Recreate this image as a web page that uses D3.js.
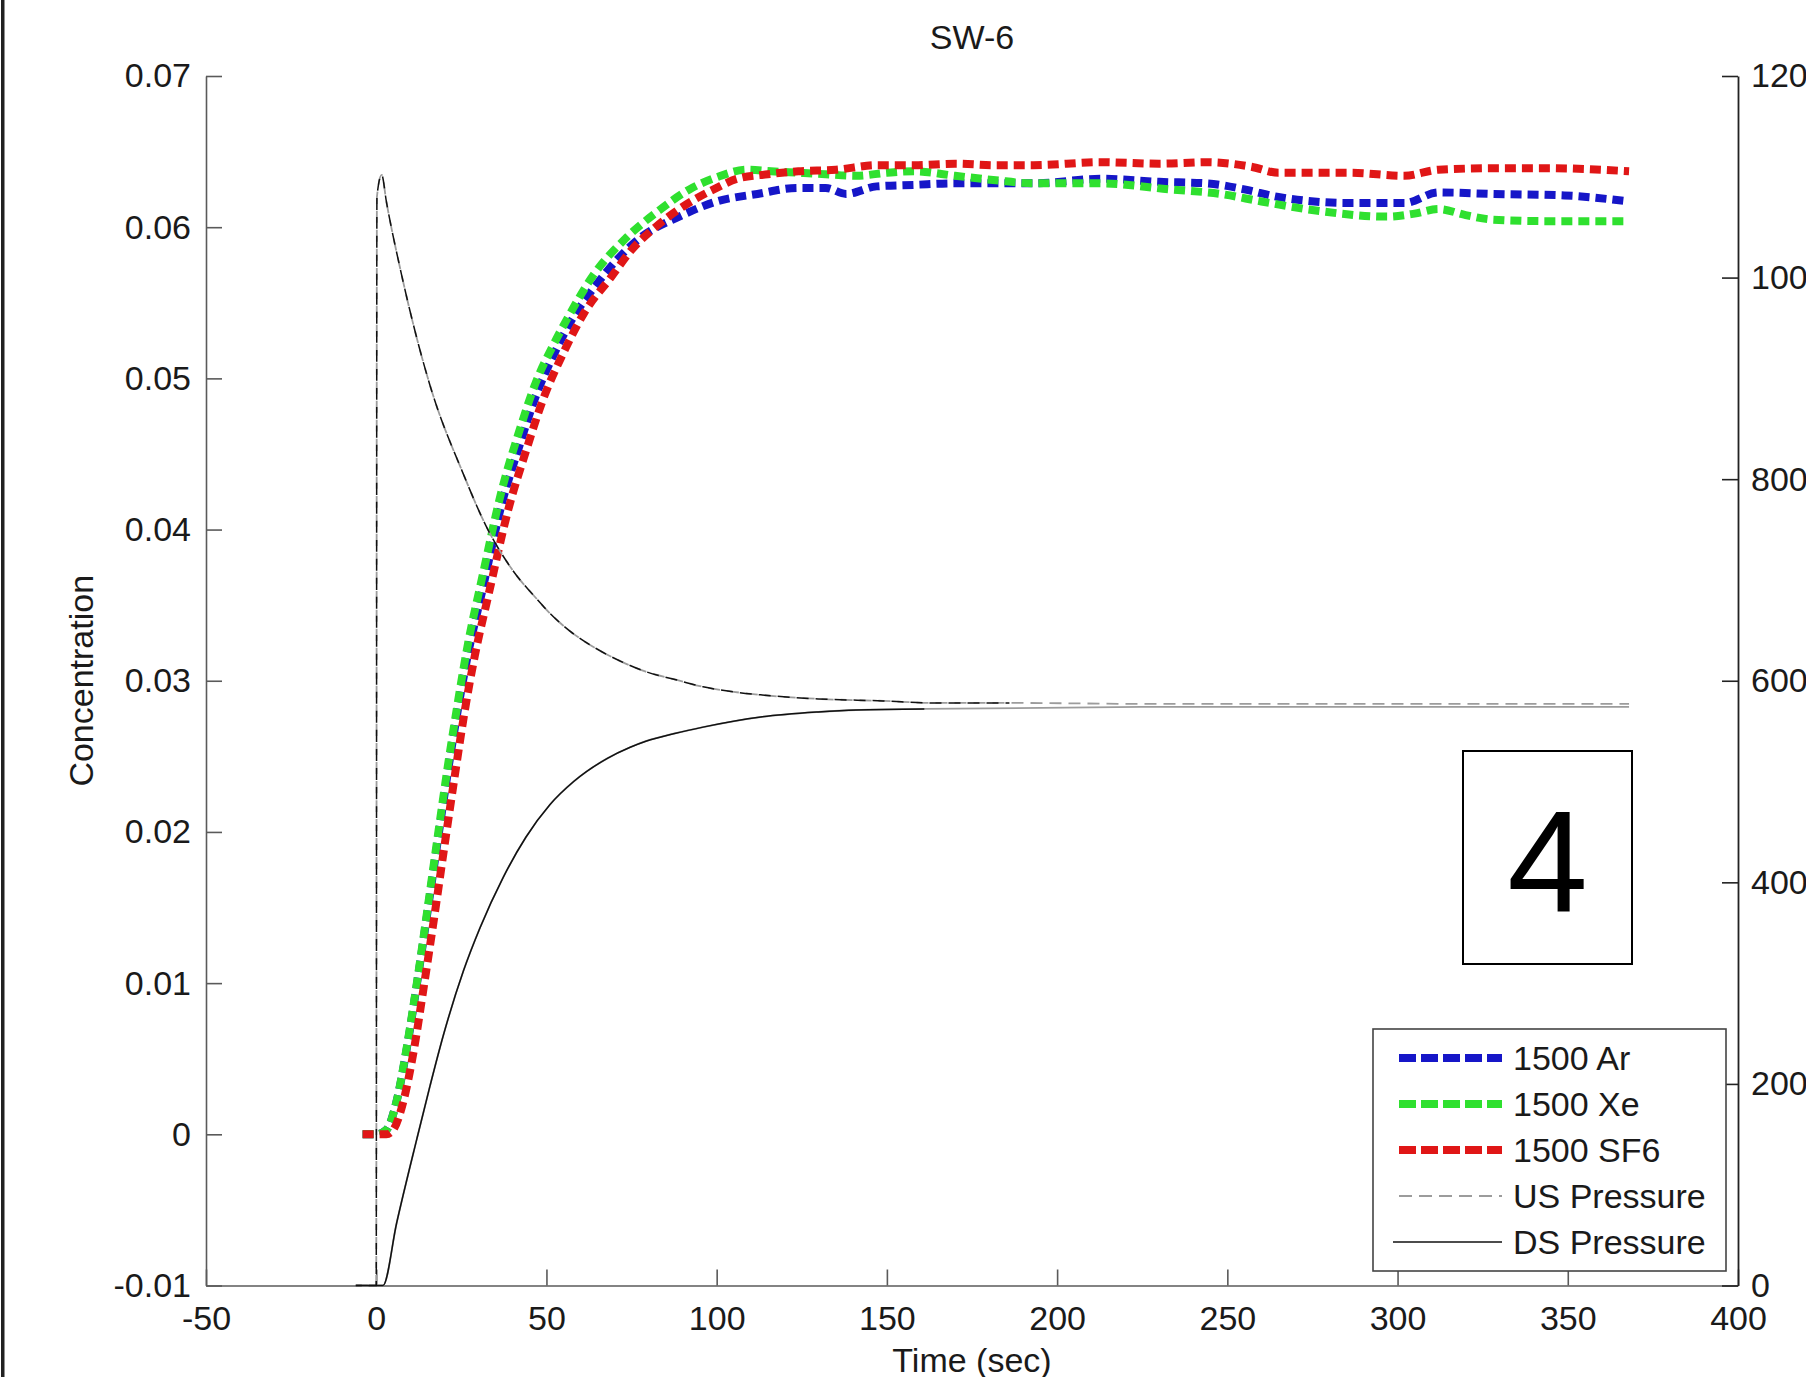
<!DOCTYPE html>
<html><head><meta charset="utf-8">
<script src="https://cdn.jsdelivr.net/npm/d3@7"></script>
<style>
html,body{margin:0;padding:0;background:#fff;}
svg{display:block;}
text{font-family:"Liberation Sans",Arial,Helvetica,sans-serif;}
</style></head><body>
<svg id="c" width="1806" height="1377"></svg>
<script>
const chartTitle = "SW-6";
const xLabel = "Time (sec)";
const yLabel = "Concentration";
const panelLabel = "4";
const xTicks = [-50, 0, 50, 100, 150, 200, 250, 300, 350, 400];
const yLeftTicks = [-0.01, 0, 0.01, 0.02, 0.03, 0.04, 0.05, 0.06, 0.07];
const yRightTicks = [0, 200, 400, 600, 800, 1000, 1200];
const seriesNames = ["1500 Ar", "1500 Xe", "1500 SF6", "US Pressure", "DS Pressure"];

// [time (s), concentration]
const arData = [[-4,0],[0,0],[3,0.0003],[6,0.0022],[9,0.0057],[12,0.0100],[15,0.0146],[18,0.0193],[21,0.0239],[24,0.0281],[27,0.0318],[31,0.0358],[37,0.0418],[42,0.0455],[47,0.0489],[52,0.0515],[57,0.0537],[65,0.0563],[77,0.0592],[89,0.0607],[100,0.0617],[112,0.0622],[124,0.0626],[132,0.0626],[138,0.0622],[147,0.0627],[158,0.0628],[170,0.0629],[193,0.0629],[213,0.0632],[230,0.0630],[244,0.0629],[255,0.0625],[265,0.0620],[286,0.0616],[302,0.0616],[312,0.0623],[328,0.0622],[349,0.0621],[368,0.0617]];
const xeData = [[-4,0],[0,0],[3,0.0003],[6,0.0022],[9,0.0058],[12,0.0101],[15,0.0148],[18,0.0196],[21,0.0243],[24,0.0286],[27,0.0325],[31,0.0367],[37,0.0427],[42,0.0465],[47,0.0498],[52,0.0522],[56,0.0539],[64,0.0569],[73,0.0592],[83,0.0611],[92,0.0625],[100,0.0633],[109,0.0638],[116,0.0637],[124,0.0636],[132,0.0635],[141,0.0634],[150,0.0636],[158,0.0637],[170,0.0634],[182,0.0631],[193,0.0629],[213,0.0629],[233,0.0625],[248,0.0622],[260,0.0617],[276,0.0611],[297,0.0607],[305,0.0609],[312,0.0612],[320,0.0608],[328,0.0605],[344,0.0604],[368,0.0604]];
const sf6Data = [[-4,0],[0,0],[3,0],[5,0.0003],[8,0.0022],[11,0.0055],[14,0.0098],[17,0.0143],[20,0.0190],[23,0.0236],[26,0.0280],[29,0.0317],[33,0.0357],[39,0.0415],[44,0.0452],[49,0.0486],[55,0.0517],[61,0.0543],[69,0.0567],[75,0.0585],[82,0.0600],[89,0.0612],[100,0.0626],[106,0.0632],[115,0.0635],[124,0.0637],[135,0.0638],[147,0.0641],[158,0.0641],[170,0.0642],[182,0.0641],[193,0.0641],[213,0.0643],[230,0.0642],[244,0.0643],[257,0.0640],[265,0.0636],[286,0.0636],[302,0.0634],[312,0.0638],[328,0.0639],[344,0.0639],[368,0.0637]];
// [time (s), pressure] on right axis
const usPressure = [[-6,0],[-1,0],[0,0],[0.2,1080],[1.6,1102],[3,1075],[7.5,1002],[15.8,893],[25.6,805],[32.5,752],[40,710],[47.2,681],[51,667],[57,649],[64.6,632],[72,619],[79.2,609],[88,601],[96,594],[105,589],[112.9,586],[129.8,582],[148.9,580],[163.5,578],[186,578],[227,577],[280,577],[330,577],[368,577]];
const dsPressure = [[-6,0],[2,0],[6,62],[11.9,145],[15.8,198],[19.7,248],[25.6,312],[30.5,355],[37.3,405],[44,445],[51,477],[58,500],[67.9,523],[74.6,534],[79.2,540],[88,548],[96,554],[112.9,564],[129.8,569],[141,571],[161,572],[227,574],[300,574],[368,574]];

const colAr = "#1616c8", colXe = "#2fe02f", colSF6 = "#e01616";
const colGray = "#9c9c9c", colBlack = "#111";

const svg = d3.select("#c");
const W = 1806, H = 1377;
const L = 206, R = 1738, T = 76, B = 1285.5;

const x = d3.scaleLinear().domain([-50, 400]).range([L, R]);
const yL = d3.scaleLinear().domain([-0.01, 0.07]).range([B, T]);
const yR = d3.scaleLinear().domain([0, 1200]).range([B, T]);

svg.append("rect").attr("width", W).attr("height", H).attr("fill", "#fff");
// left frame border
svg.append("rect").attr("x", 1).attr("y", 0).attr("width", 3.5).attr("height", H).attr("fill", "#222");

const fs = 34;
const fmtL = v => v === 0 ? "0" : v.toFixed(2);

// axes
const axL = svg.append("g").attr("transform", `translate(${L},0)`)
  .call(d3.axisLeft(yL).tickValues(yLeftTicks).tickFormat(fmtL).tickSize(-16).tickSizeOuter(0).tickPadding(15));
const axB = svg.append("g").attr("transform", `translate(0,${B})`)
  .call(d3.axisBottom(x).tickValues(xTicks).tickFormat(d => String(d)).tickSize(-16).tickSizeOuter(0).tickPadding(20));
const axR = svg.append("g").attr("transform", `translate(${R},0)`)
  .call(d3.axisRight(yR).tickValues(yRightTicks).tickFormat(d => String(d)).tickSize(-16).tickSizeOuter(0).tickPadding(13));
[axL, axB].forEach(g => {
  g.select(".domain").attr("stroke", "#5a5a5a").attr("stroke-width", 1.6);
  g.selectAll(".tick line").attr("stroke", "#5a5a5a").attr("stroke-width", 1.6);
});
axR.select(".domain").attr("stroke", "#222").attr("stroke-width", 1.8);
axR.selectAll(".tick line").attr("stroke", "#222").attr("stroke-width", 1.6);
[axL, axB, axR].forEach(g => g.selectAll(".tick text")
  .attr("font-size", fs).attr("fill", "#1a1a1a")
  .attr("font-family", '"Liberation Sans",Arial,sans-serif'));

// title and labels
svg.append("text").attr("x", (L + R) / 2).attr("y", 49).attr("text-anchor", "middle")
  .attr("font-size", fs).attr("fill", "#1a1a1a").text(chartTitle);
svg.append("text").attr("x", (L + R) / 2).attr("y", 1372).attr("text-anchor", "middle")
  .attr("font-size", fs).attr("fill", "#1a1a1a").text(xLabel);
svg.append("text").attr("transform", `translate(93,${(T + B) / 2}) rotate(-90)`).attr("text-anchor", "middle")
  .attr("font-size", fs).attr("fill", "#1a1a1a").text(yLabel);

// lines
const lineC = d3.line().x(d => x(d[0])).y(d => yL(d[1])).curve(d3.curveMonotoneX);
const lineP = d3.line().x(d => x(d[0])).y(d => yR(d[1])).curve(d3.curveMonotoneX);

const conc = [[arData, colAr], [xeData, colXe], [sf6Data, colSF6]];
conc.forEach(([data, col]) => {
  svg.append("path").attr("d", lineC(data)).attr("fill", "none")
    .attr("stroke", col).attr("stroke-width", 8).attr("stroke-dasharray", "11,6");
});

// pressure lines
svg.append("path").attr("d", lineP(usPressure)).attr("fill", "none")
  .attr("stroke", colGray).attr("stroke-width", 1.8).attr("stroke-dasharray", "12,7");
svg.append("path").attr("d", lineP(dsPressure)).attr("fill", "none")
  .attr("stroke", colGray).attr("stroke-width", 1.8);
svg.append("path").attr("d", lineP(usPressure.filter(d => d[0] <= 186))).attr("fill", "none")
  .attr("stroke", colBlack).attr("stroke-width", 1.5).attr("stroke-dasharray", "12,7").attr("stroke-dashoffset", 6);
svg.append("path").attr("d", lineP(dsPressure.filter(d => d[0] <= 161))).attr("fill", "none")
  .attr("stroke", colBlack).attr("stroke-width", 1.5);

// panel label box
svg.append("rect").attr("x", 1463).attr("y", 751).attr("width", 169).attr("height", 213)
  .attr("fill", "#fff").attr("stroke", "#000").attr("stroke-width", 2);
svg.append("text").attr("x", 1547.5).attr("y", 912).attr("text-anchor", "middle")
  .attr("font-family", '"Open Sans",sans-serif').attr("font-size", 145).attr("fill", "#000").text(panelLabel);

// legend
const lg = svg.append("g");
lg.append("rect").attr("x", 1373).attr("y", 1029).attr("width", 353).attr("height", 242)
  .attr("fill", "#fff").attr("stroke", "#444").attr("stroke-width", 1.6);
const legStyles = [
  {col: colAr, w: 8, dash: "17,5", x1: 1399},
  {col: colXe, w: 8, dash: "17,5", x1: 1399},
  {col: colSF6, w: 8, dash: "17,5", x1: 1399},
  {col: colGray, w: 1.8, dash: "13,7", x1: 1399},
  {col: colBlack, w: 1.5, dash: null, x1: 1393}
];
seriesNames.forEach((name, i) => {
  const cy = 1058 + i * 46;
  const s = legStyles[i];
  const ln = lg.append("line").attr("x1", s.x1).attr("x2", 1502).attr("y1", cy).attr("y2", cy)
    .attr("stroke", s.col).attr("stroke-width", s.w);
  if (s.dash) ln.attr("stroke-dasharray", s.dash);
  lg.append("text").attr("x", 1513).attr("y", cy + 12).attr("font-size", fs).attr("fill", "#1a1a1a").text(name);
});
</script>
</body></html>
